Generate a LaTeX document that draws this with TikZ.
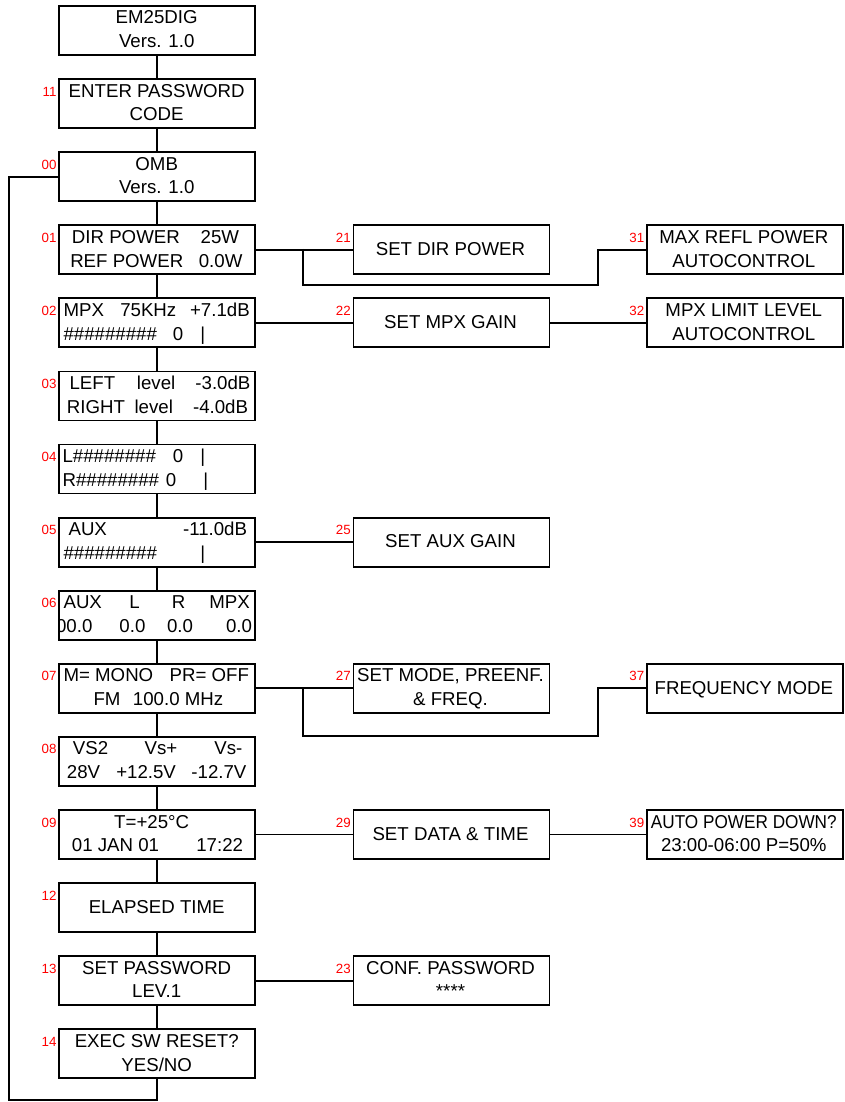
\documentclass[tikz,border=0pt]{standalone}
\usepackage{fontspec}
\usepackage{graphicx}
\setmainfont{Liberation Sans}
\begin{document}
\begin{tikzpicture}[x=0.75pt,y=-0.75pt,
  box/.style={draw, line width=1.45pt, minimum width=147pt, minimum height=36.75pt, inner sep=0pt, anchor=north west},
  txt/.style={inner sep=0pt, font=\fontsize{14}{17}\selectfont},
  lbl/.style={inner sep=0pt, text=red, font=\fontsize{10}{11}\selectfont, anchor=base east},
  wire/.style={line width=1.45pt}]
\useasboundingbox (0,0) rectangle (844,1102);
\fill[white] (0,0) rectangle (844,1102);

% ---------- left column boxes ----------
\node[box] (em) at (58.3,5.0) {};
\node[box] (b11) at (58.3,78.1) {};   \node[lbl] (l11) at (56.8,96.1) {11};
\node[box] (b00) at (58.3,151.2) {};  \node[lbl] (l00) at (56.8,169.2) {00};
\node[box] (b01) at (58.3,224.3) {};  \node[lbl] (l01) at (56.8,242.3) {01};
\node[box] (b02) at (58.3,297.4) {};  \node[lbl] (l02) at (56.8,315.4) {02};
\node[box] (b03) at (58.3,370.5) {};  \node[lbl] (l03) at (56.8,388.5) {03};
\node[box] (b04) at (58.3,443.5) {};  \node[lbl] (l04) at (56.8,461.5) {04};
\node[box] (b05) at (58.3,516.6) {};  \node[lbl] (l05) at (56.8,534.6) {05};
\node[box] (b06) at (58.3,589.7) {};  \node[lbl] (l06) at (56.8,607.7) {06};
\node[box] (b07) at (58.3,662.8) {};  \node[lbl] (l07) at (56.8,680.8) {07};
\node[box] (b08) at (58.3,735.9) {};  \node[lbl] (l08) at (56.8,753.9) {08};
\node[box] (b09) at (58.3,809.0) {};  \node[lbl] (l09) at (56.8,827.0) {09};
\node[box] (b12) at (58.3,882.1) {};  \node[lbl] (l12) at (56.8,900.1) {12};
\node[box] (b13) at (58.3,955.2) {};  \node[lbl] (l13) at (56.8,973.2) {13};
\node[box] (b14) at (58.3,1028.3) {}; \node[lbl] (l14) at (56.8,1046.3) {14};

% ---------- second column ----------
\node[box] (b21) at (352.5,224.3) {}; \node[lbl] (l21) at (351,242.3) {21};
\node[box] (b22) at (352.5,297.4) {}; \node[lbl] (l22) at (351,315.4) {22};
\node[box] (b25) at (352.5,516.6) {}; \node[lbl] (l25) at (351,534.6) {25};
\node[box] (b27) at (352.5,662.8) {}; \node[lbl] (l27) at (351,680.8) {27};
\node[box] (b29) at (352.5,809.0) {}; \node[lbl] (l29) at (351,827.0) {29};
\node[box] (b23) at (352.5,955.2) {}; \node[lbl] (l23) at (351,973.2) {23};

% ---------- third column ----------
\node[box] (b31) at (646,224.3) {}; \node[lbl] (l31) at (644.5,242.3) {31};
\node[box] (b32) at (646,297.4) {}; \node[lbl] (l32) at (644.5,315.4) {32};
\node[box] (b37) at (646,662.8) {}; \node[lbl] (l37) at (644.5,680.8) {37};
\node[box] (b39) at (646,809.0) {}; \node[lbl] (l39) at (644.5,827.0) {39};

% ---------- texts, left column ----------
\node[txt,anchor=base] (tema) at (156.7,24.0) {EM25DIG};
\node[txt,anchor=base] (temb) at (156.7,47.7) {Vers. 1.0};
\node[txt,anchor=base] (t11a) at (156.7,97.1) {ENTER PASSWORD};
\node[txt,anchor=base] (t11b) at (156.7,120.8) {CODE};
\node[txt,anchor=base] (t00a) at (156.7,170.2) {OMB};
\node[txt,anchor=base] (t00b) at (156.7,193.9) {Vers. 1.0};

\node[txt,anchor=base west] (t01a) at (71.7,243.3) {DIR POWER};
\node[txt,anchor=base east] (t01b) at (239.3,243.3) {25W};
\node[txt,anchor=base west] (t01c) at (70.0,267.0) {REF POWER};
\node[txt,anchor=base east] (t01d) at (242.7,267.0) {0.0W};

\node[txt,anchor=base west] (t02a) at (63.3,316.4) {MPX};
\node[txt,anchor=base west] (t02b) at (120.0,316.4) {75KHz};
\node[txt,anchor=base east] (t02c) at (250.0,316.4) {+7.1dB};
\node[txt,anchor=base west] (t02d) at (63.3,340.1) {\#\#\#\#\#\#\#\#\#};
\node[txt,anchor=base west] (t02e) at (172.7,340.1) {0};
\node[txt,anchor=base west] (t02f) at (200.0,340.1) {|};

\node[txt,anchor=base west] (t03a) at (69.3,389.5) {LEFT};
\node[txt,anchor=base west] (t03b) at (136.7,389.5) {level};
\node[txt,anchor=base east] (t03c) at (250.7,389.5) {-3.0dB};
\node[txt,anchor=base west] (t03d) at (66.7,413.2) {RIGHT};
\node[txt,anchor=base west] (t03e) at (134.3,413.2) {level};
\node[txt,anchor=base east] (t03f) at (248.3,413.2) {-4.0dB};

\node[txt,anchor=base west] (t04a) at (62.3,462.5) {L\#\#\#\#\#\#\#\#};
\node[txt,anchor=base west] (t04b) at (172.7,462.5) {0};
\node[txt,anchor=base west] (t04c) at (200.0,462.5) {|};
\node[txt,anchor=base west] (t04d) at (62.3,486.2) {R\#\#\#\#\#\#\#\#};
\node[txt,anchor=base west] (t04e) at (165.7,486.2) {0};
\node[txt,anchor=base west] (t04f) at (203.0,486.2) {|};

\node[txt,anchor=base west] (t05a) at (68.3,535.6) {AUX};
\node[txt,anchor=base east] (t05b) at (247.3,535.6) {-11.0dB};
\node[txt,anchor=base west] (t05c) at (63.3,559.3) {\#\#\#\#\#\#\#\#\#};
\node[txt,anchor=base west] (t05d) at (200.0,559.3) {|};

\node[txt,anchor=base west] (t06a) at (63.3,608.7) {AUX};
\node[txt,anchor=base west] (t06b) at (129.0,608.7) {L};
\node[txt,anchor=base west] (t06c) at (171.7,608.7) {R};
\node[txt,anchor=base east] (t06d) at (250.0,608.7) {MPX};
\begin{scope}
\clip (b06.south west) rectangle (b06.north east);
\node[txt,anchor=base east] (t06e) at (92.7,632.4) {00.0};
\end{scope}
\node[txt,anchor=base east] (t06f) at (145.7,632.4) {0.0};
\node[txt,anchor=base east] (t06g) at (193.3,632.4) {0.0};
\node[txt,anchor=base east] (t06h) at (252.3,632.4) {0.0};

\node[txt,anchor=base west] (t07a) at (63.3,681.8) {M= MONO};
\node[txt,anchor=base east] (t07b) at (249.3,681.8) {PR= OFF};
\node[txt,anchor=base west] (t07c) at (93.3,705.5) {FM};
\node[txt,anchor=base west] (t07d) at (132.7,705.5) {100.0 MHz};

\node[txt,anchor=base west] (t08a) at (72.7,754.9) {VS2};
\node[txt,anchor=base west] (t08b) at (144.3,754.9) {Vs+};
\node[txt,anchor=base east] (t08c) at (242.7,754.9) {Vs-};
\node[txt,anchor=base west] (t08d) at (66.7,778.6) {28V};
\node[txt,anchor=base west] (t08e) at (116.0,778.6) {+12.5V};
\node[txt,anchor=base east] (t08f) at (246.7,778.6) {-12.7V};

\node[txt,anchor=base] (t09a) at (151.7,828.0) {T=+25°C};
\node[txt,anchor=base west] (t09b) at (71.7,851.7) {01 JAN 01};
\node[txt,anchor=base east] (t09c) at (243.3,851.7) {17:22};

\node[txt,anchor=base] (t12a) at (156.7,913.3) {ELAPSED TIME};
\node[txt,anchor=base] (t13a) at (156.7,974.2) {SET PASSWORD};
\node[txt,anchor=base] (t13b) at (156.7,997.9) {LEV.1};
\node[txt,anchor=base] (t14a) at (156.7,1047.3) {EXEC SW RESET?};
\node[txt,anchor=base] (t14b) at (156.7,1071.0) {YES/NO};

% ---------- texts, right columns ----------
\node[txt,anchor=base] (t21a) at (450.5,255.5) {SET DIR POWER};
\node[txt,anchor=base] (t22a) at (450.5,328.6) {SET MPX GAIN};
\node[txt,anchor=base] (t25a) at (450.5,547.8) {SET AUX GAIN};
\node[txt,anchor=base] (t27a) at (450.5,681.8) {SET MODE, PREENF.};
\node[txt,anchor=base] (t27b) at (450.5,705.5) {\& FREQ.};
\node[txt,anchor=base] (t29a) at (450.5,840.2) {SET DATA \& TIME};
\node[txt,anchor=base] (t23a) at (450.5,974.2) {CONF. PASSWORD};
\node[txt,anchor=base] (t23b) at (450.5,997.9) {****};

\node[txt,anchor=base] (t31a) at (743.8,243.3) {MAX REFL POWER};
\node[txt,anchor=base] (t31b) at (743.8,267.0) {AUTOCONTROL};
\node[txt,anchor=base] (t32a) at (743.8,316.4) {MPX LIMIT LEVEL};
\node[txt,anchor=base] (t32b) at (743.8,340.1) {AUTOCONTROL};
\node[txt,anchor=base] (t37a) at (743.8,694.0) {FREQUENCY MODE};
\node[txt,anchor=base] (t39a) at (743.8,828.0) {\scalebox{0.92}[1]{AUTO POWER DOWN?}};
\node[txt,anchor=base] (t39b) at (743.8,851.7) {23:00-06:00 P=50\%};

% ---------- connectors ----------
\draw[wire] (em.south) -- (b11.north);
\draw[wire] (b11.south) -- (b00.north);
\draw[wire] (b00.south) -- (b01.north);
\draw[wire] (b01.south) -- (b02.north);
\draw[wire] (b02.south) -- (b03.north);
\draw[wire] (b03.south) -- (b04.north);
\draw[wire] (b04.south) -- (b05.north);
\draw[wire] (b05.south) -- (b06.north);
\draw[wire] (b06.south) -- (b07.north);
\draw[wire] (b07.south) -- (b08.north);
\draw[wire] (b08.south) -- (b09.north);
\draw[wire] (b09.south) -- (b12.north);
\draw[wire] (b12.south) -- (b13.north);
\draw[wire] (b13.south) -- (b14.north);

\coordinate (lp) at (9.3,1100);
\draw[wire] (b14.south) |- (lp) |- (b00.west);

\draw[wire] (b01.east) -- (b21.west);
\coordinate (j1) at (303.4,248.8);
\coordinate (k1) at (597.6,285);
\draw[wire] (j1) |- (k1) |- (b31.west);

\draw[wire] (b02.east) -- (b22.west);
\draw[wire] (b22.east) -- (b32.west);
\draw[wire] (b05.east) -- (b25.west);

\draw[wire] (b07.east) -- (b27.west);
\coordinate (j2) at (303.4,687.3);
\coordinate (k2) at (597.6,736);
\draw[wire] (j2) |- (k2) |- (b37.west);

\draw[wire] (b09.east) -- (b29.west);
\draw[wire] (b29.east) -- (b39.west);
\draw[wire] (b13.east) -- (b23.west);
\end{tikzpicture}
\end{document}
